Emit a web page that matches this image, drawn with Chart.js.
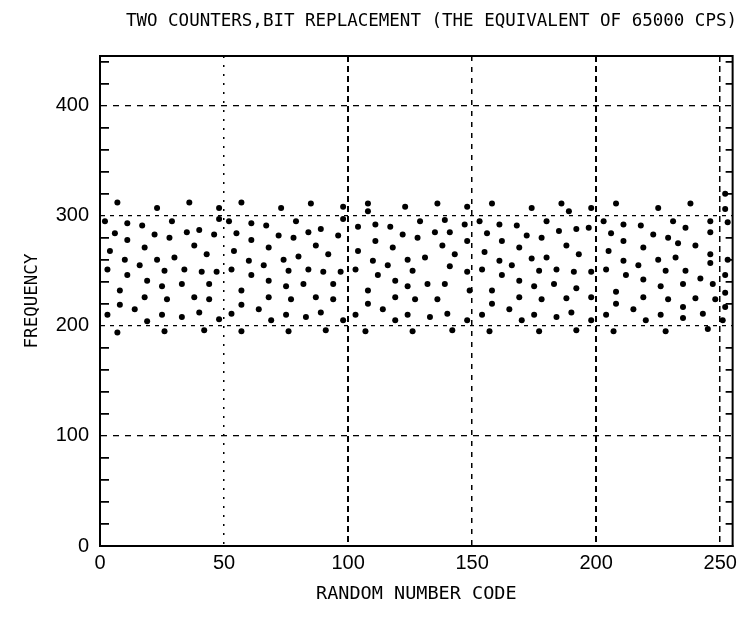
<!DOCTYPE html>
<html>
<head>
<meta charset="utf-8">
<script src="https://cdn.jsdelivr.net/npm/chart.js@4.4.1/dist/chart.umd.min.js"></script>
<style>
  html, body { margin: 0; padding: 0; background: #fff; }
</style>
</head>
<body>
<canvas id="myChart" width="742" height="629"></canvas>
<script>
// random number code (x) and how often it came up (y)
const codes = [
    7, 23, 36, 2, 11, 17, 29, 40, 6, 11, 22, 28, 35, 38, 4, 18, 10, 23, 30, 16, 3, 26, 34, 41, 11, 19, 33, 25, 8, 18, 27, 38, 8, 14, 3, 25, 33, 40, 19, 7, 26, 42,
    48, 57, 73, 48, 52, 61, 67, 79, 46, 55, 61, 72, 78, 68, 54, 43, 80, 60, 74, 66, 47, 53, 76, 61, 44, 68, 82, 75, 57, 44, 68, 77, 57, 64, 53, 75, 48, 69, 83, 57, 76,
    85, 98, 108, 108, 123, 98, 84, 89, 96, 104, 111, 117, 122, 87, 92, 104, 111, 118, 110, 116, 124, 84, 90, 97, 103, 112, 94, 108, 119, 124, 87, 94, 108, 119, 89, 103, 114, 98, 119, 124, 91, 107,
    136, 148, 158, 129, 139, 147, 153, 161, 128, 135, 141, 148, 156, 162, 138, 143, 155, 131, 161, 126, 141, 148, 154, 166, 162, 132, 139, 149, 158, 127, 136, 158, 133, 140, 148, 154, 165, 126, 142, 157,
    174, 186, 189, 198, 208, 168, 180, 192, 197, 203, 172, 178, 185, 206, 169, 188, 193, 205, 174, 180, 177, 184, 191, 198, 204, 169, 175, 183, 192, 208, 169, 178, 188, 198, 208, 175, 184, 190, 204, 170, 198, 177, 192, 207,
    225, 238, 252, 252, 211, 218, 231, 236, 246, 211, 223, 229, 233, 240, 246, 219, 246, 211, 217, 225, 232, 246, 253, 212, 228, 236, 242, 252, 219, 235, 247, 226, 252, 219, 229, 240, 248, 215, 235, 252, 226, 243, 235, 220, 251, 245, 228, 253
];
const freqs = [
    312, 307, 312, 295, 293, 291, 295, 287, 284, 278, 283, 280, 285, 273, 268, 271, 260, 260, 262, 255, 251, 250, 251, 249, 246, 241, 238, 236, 232, 226, 224, 226, 219, 215, 210, 210, 208, 212, 204, 194, 195, 196,
    307, 312, 307, 297, 295, 293, 291, 295, 283, 284, 278, 282, 280, 271, 268, 265, 263, 259, 260, 255, 249, 251, 250, 246, 238, 241, 238, 236, 232, 224, 226, 224, 219, 215, 211, 210, 206, 205, 208, 195, 195,
    311, 308, 311, 304, 308, 297, 285, 288, 282, 290, 292, 290, 283, 273, 265, 268, 277, 271, 259, 255, 260, 251, 249, 249, 251, 246, 238, 232, 241, 236, 226, 224, 220, 226, 212, 210, 215, 205, 205, 210, 196, 195,
    311, 308, 311, 295, 296, 292, 295, 292, 280, 285, 285, 277, 284, 277, 273, 265, 267, 262, 259, 250, 254, 249, 251, 255, 246, 238, 238, 232, 232, 224, 224, 220, 208, 211, 205, 210, 215, 195, 196, 195,
    307, 311, 304, 307, 311, 291, 295, 288, 289, 295, 282, 280, 286, 284, 271, 273, 265, 268, 261, 262, 250, 251, 249, 249, 251, 241, 236, 238, 234, 231, 226, 224, 225, 226, 220, 210, 208, 212, 210, 205, 205, 195, 196, 195,
    307, 311, 320, 306, 292, 291, 295, 289, 295, 277, 283, 280, 275, 273, 285, 271, 265, 259, 255, 260, 262, 257, 260, 246, 250, 250, 243, 246, 242, 238, 238, 236, 230, 226, 224, 225, 224, 215, 217, 217, 210, 211, 207, 205, 205, 197, 195, 294
];
const xLabels = [0, 50, 100, 150, 200, 250];
const yLabels = [0, 100, 200, 300, 400];

const mono = "'DejaVu Sans Mono', monospace";
const sans = "'Liberation Sans', Arial, sans-serif";

// box round the plot (chart.js only draws the left and bottom edges)
const frame = {
    id: 'frame',
    afterDraw(chart) {
        let a = chart.chartArea, c = chart.ctx;
        c.save();
        c.strokeStyle = '#000';
        c.lineWidth = 2;
        c.strokeRect(a.left, a.top, a.right - a.left, a.bottom - a.top);
        c.restore();
    }
};

function areaWidth(c) {
    let a = c.chart.chartArea;
    return a ? a.right - a.left : 630;
}

window.onload = function () {
    let points = codes.map((x, i) => ({ x: x, y: freqs[i] }));
    var ctx = document.getElementById('myChart').getContext('2d');
    var chart = new Chart(ctx, {
        type: 'scatter',
        data: {
            datasets: [{
                data: points,
                backgroundColor: '#000',
                borderWidth: 0,
                pointRadius: 3,
                pointHoverRadius: 3
            }]
        },
        plugins: [frame],
        options: {
            responsive: false,
            animation: false,
            layout: { padding: { left: 0, right: 5, top: 0, bottom: 0 } },
            plugins: {
                legend: { display: false },
                tooltip: { enabled: false },
                title: {
                    display: true,
                    text: 'TWO COUNTERS,BIT REPLACEMENT (THE EQUIVALENT OF 65000 CPS)',
                    align: 'end',
                    color: '#000',
                    font: { family: mono, size: 17.5, weight: 'normal' },
                    padding: { top: 10.5, bottom: 24.5 }
                }
            },
            scales: {
                x: {
                    type: 'linear',
                    min: 0,
                    max: 255,
                    afterFit: s => { s.height = 83; },
                    ticks: {
                        stepSize: 50,
                        includeBounds: false,
                        autoSkip: false,
                        maxRotation: 0,
                        padding: 5,
                        color: '#000',
                        font: { family: sans, size: 20 },
                        callback: v => xLabels.includes(v) ? String(v) : ''
                    },
                    grid: {
                        drawTicks: false,
                        color: c => (c.tick && c.tick.value > 0) ? '#000' : 'rgba(0,0,0,0)',
                        lineWidth: c => (c.tick && (c.tick.value == 100 || c.tick.value == 200)) ? 2 : 1.5
                    },
                    border: {
                        color: '#000',
                        width: 2,
                        dash: c => {
                            if (!c.tick) return [];
                            if (c.tick.value == 50) return [2, 7];
                            if (c.tick.value == 150) return [5, 6];
                            return [6, 4];
                        }
                    },
                    title: {
                        display: true,
                        text: 'RANDOM NUMBER CODE',
                        color: '#000',
                        font: { family: mono, size: 18.5 },
                        padding: { top: 0, bottom: 24 }
                    }
                },
                y: {
                    min: 0,
                    max: 445,
                    afterFit: s => { s.width = 100; },
                    ticks: {
                        stepSize: 20,
                        includeBounds: false,
                        autoSkip: false,
                        padding: 11,
                        color: '#000',
                        font: { family: sans, size: 20 },
                        callback: v => yLabels.includes(v) ? String(v) : ''
                    },
                    grid: {
                        drawTicks: false,
                        color: c => (c.tick && c.tick.value > 0) ? '#000' : 'rgba(0,0,0,0)',
                        lineWidth: c => (c.tick && c.tick.value % 100 == 0) ? 1.3 : 1.8
                    },
                    border: {
                        color: '#000',
                        width: 2,
                        dash: c => {
                            if (!c.tick) return [];
                            let v = c.tick.value;
                            if (v == 100 || v == 400) return [6, 6];
                            if (v % 100 == 0) return [4, 5];
                            // short inward ticks on both sides
                            let w = areaWidth(c);
                            return [8, w - 16, 8, 3000];
                        }
                    },
                    title: {
                        display: true,
                        text: 'FREQUENCY',
                        color: '#000',
                        font: { family: mono, size: 17.5 },
                        padding: { top: 21.5, bottom: 0 }
                    }
                }
            }
        }
    });
}
</script>
</body>
</html>
